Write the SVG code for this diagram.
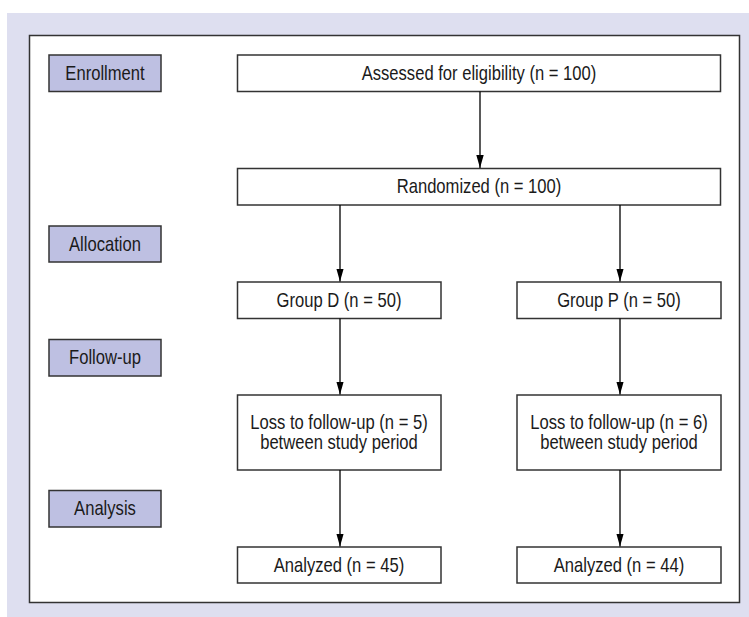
<svg xmlns="http://www.w3.org/2000/svg" width="749" height="617" viewBox="0 0 749 617">
<style>
.bg{fill:#dedff0}
.frame{fill:#ffffff;stroke:#333333;stroke-width:1.5}
.lab{fill:#bec0e2;stroke:#333333;stroke-width:1.5}
.box{fill:#ffffff;stroke:#333333;stroke-width:1.5}
text{font-family:"Liberation Sans",Arial,sans-serif;font-size:20px;fill:#1a1a1a;text-anchor:middle;transform-box:fill-box;transform-origin:center;transform:scaleX(0.83)}
.conn line{stroke:#000000;stroke-width:1.3}
</style>
<defs>
<marker id="arr" viewBox="0 0 13 8" refX="13" refY="4" markerWidth="13" markerHeight="8" markerUnits="userSpaceOnUse" orient="auto">
<path d="M0,0.3 L13,4 L0,7.7 Z" fill="#000000"/>
</marker>
</defs>
<rect class="bg" x="7" y="13" width="742" height="604"/>
<rect class="frame" x="29.5" y="35.5" width="710" height="567"/>

<g id="enrollment"><rect class="lab" x="49" y="55" width="112" height="36.5"/><text x="105" y="80">Enrollment</text></g>
<g id="allocation"><rect class="lab" x="49" y="226" width="112" height="36"/><text x="105" y="251">Allocation</text></g>
<g id="followup"><rect class="lab" x="49" y="339.5" width="112" height="36.5"/><text x="105" y="364.5">Follow-up</text></g>
<g id="analysis"><rect class="lab" x="49" y="490.5" width="112" height="36.5"/><text x="105" y="515.5">Analysis</text></g>

<g id="assessed"><rect class="box" x="237.5" y="55" width="483" height="36.5"/><text x="479" y="80">Assessed for eligibility (n = 100)</text></g>
<g id="randomized"><rect class="box" x="237.5" y="168.5" width="483" height="36.5"/><text x="479" y="193.5">Randomized (n = 100)</text></g>
<g id="groupD"><rect class="box" x="237.5" y="282" width="203.5" height="36.5"/><text x="339" y="307">Group D (n = 50)</text></g>
<g id="groupP"><rect class="box" x="517" y="282" width="204" height="36.5"/><text x="619" y="307">Group P (n = 50)</text></g>
<g id="lossD"><rect class="box" x="237.5" y="395" width="203.5" height="75"/><text x="339" y="429.5">Loss to follow-up (n = 5)</text><text x="339" y="449.5">between study period</text></g>
<g id="lossP"><rect class="box" x="517" y="395" width="204" height="75"/><text x="619" y="429.5">Loss to follow-up (n = 6)</text><text x="619" y="449.5">between study period</text></g>
<g id="analyzedD"><rect class="box" x="237.5" y="547" width="203.5" height="36"/><text x="339" y="572">Analyzed (n = 45)</text></g>
<g id="analyzedP"><rect class="box" x="517" y="547" width="204" height="36"/><text x="619" y="572">Analyzed (n = 44)</text></g>

<g class="conn" id="connectors">
<line x1="480" y1="91.5" x2="480" y2="168" marker-end="url(#arr)"/>
<line x1="340" y1="205" x2="340" y2="281.5" marker-end="url(#arr)"/>
<line x1="620" y1="205" x2="620" y2="281.5" marker-end="url(#arr)"/>
<line x1="340" y1="318.5" x2="340" y2="394.5" marker-end="url(#arr)"/>
<line x1="620" y1="318.5" x2="620" y2="394.5" marker-end="url(#arr)"/>
<line x1="340" y1="470" x2="340" y2="546.5" marker-end="url(#arr)"/>
<line x1="620" y1="470" x2="620" y2="546.5" marker-end="url(#arr)"/>
</g>
</svg>
